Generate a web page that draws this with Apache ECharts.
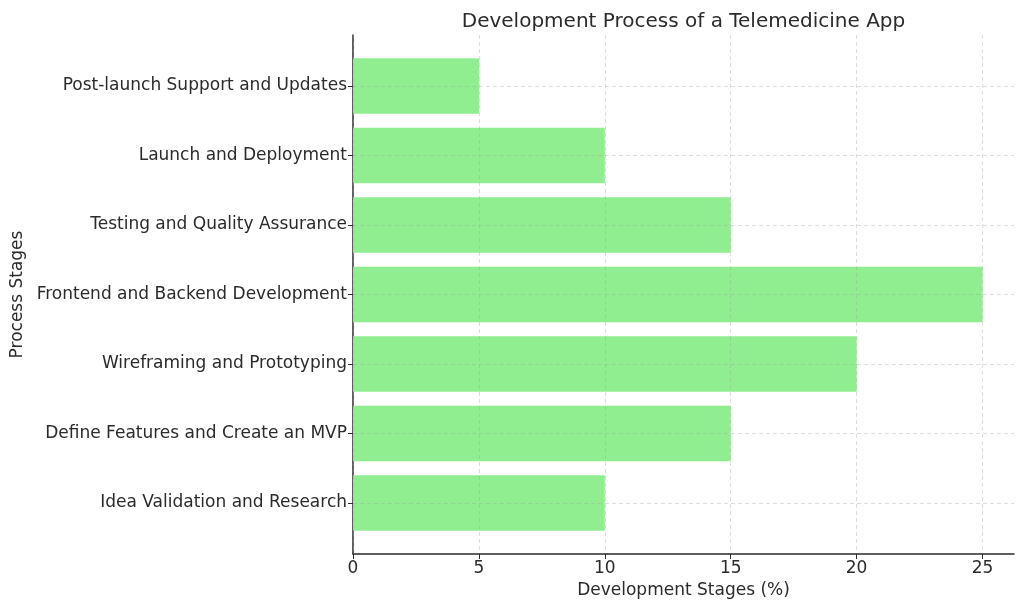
<!DOCTYPE html>
<html>
<head>
<meta charset="utf-8">
<script src="https://cdn.jsdelivr.net/npm/echarts@6/dist/echarts.min.js"></script>
<style>html,body{margin:0;padding:0;background:#fff;}#c{width:1024px;height:610px;}</style>
</head>
<body>
<div id="c"></div>
<script>
const categories = [
  "Idea Validation and Research",
  "Define Features and Create an MVP",
  "Wireframing and Prototyping",
  "Frontend and Backend Development",
  "Testing and Quality Assurance",
  "Launch and Deployment",
  "Post-launch Support and Updates"
];
const values = [10, 15, 20, 25, 15, 10, 5];
const titleText = "Development Process of a Telemedicine App";
const xName = "Development Stages (%)";
const yName = "Process Stages";

const font = "DejaVu Sans";
const txt = "#2b2b2b";
const gridStyle = { color: "rgba(160,160,160,0.45)", type: [4, 3], width: 0.8 };

const chart = echarts.init(document.getElementById("c"));
chart.setOption({
  animation: false,
  backgroundColor: "#fff",
  textStyle: { fontFamily: font },
  title: {
    text: titleText, left: 678.5, top: 7, textAlign: "center",
    textStyle: { fontFamily: font, fontSize: 20, fontWeight: "normal", color: txt }
  },
  grid: [
    { left: 353, right: 10, top: 35, bottom: 56, containLabel: false },
    { left: 353, right: 10, top: 86, bottom: 107, containLabel: false }
  ],
  xAxis: [
    {
      gridIndex: 0, type: "value", min: 0, max: 26.25, interval: 5, z: 5,
      name: xName, nameLocation: "middle", nameGap: 27,
      nameTextStyle: { fontFamily: font, fontSize: 17, color: txt },
      axisLine: { show: true, lineStyle: { color: txt, width: 1.5 } },
      axisTick: { show: true, length: 5, lineStyle: { color: txt, width: 1 } },
      axisLabel: { fontFamily: font, fontSize: 17, color: txt, margin: 6, showMaxLabel: false },
      splitLine: { show: true, showMaxLine: false, lineStyle: gridStyle }
    },
    {
      gridIndex: 1, type: "value", min: 0, max: 26.25, show: false
    }
  ],
  yAxis: [
    {
      gridIndex: 0, type: "value", min: 0, max: 1,
      name: yName, nameLocation: "middle", nameGap: 327, nameRotate: 90,
      nameTextStyle: { fontFamily: font, fontSize: 17, color: txt },
      axisLine: { show: true, lineStyle: { color: txt, width: 1.5 } },
      axisTick: { show: false }, axisLabel: { show: false }, splitLine: { show: false }
    },
    {
      gridIndex: 1, type: "category", data: categories, boundaryGap: false, z: 5,
      axisLine: { show: false },
      axisTick: { show: true, length: 5, alignWithLabel: true, lineStyle: { color: txt, width: 1 } },
      axisLabel: { fontFamily: font, fontSize: 17, color: txt, margin: 6 },
      splitLine: { show: true, showMinLine: true, showMaxLine: true, lineStyle: gridStyle }
    }
  ],
  series: [{
    type: "bar", xAxisIndex: 1, yAxisIndex: 1, data: values,
    barWidth: 55.6, clip: false,
    itemStyle: { color: "#90EE90" }
  }]
});
</script>
</body>
</html>
